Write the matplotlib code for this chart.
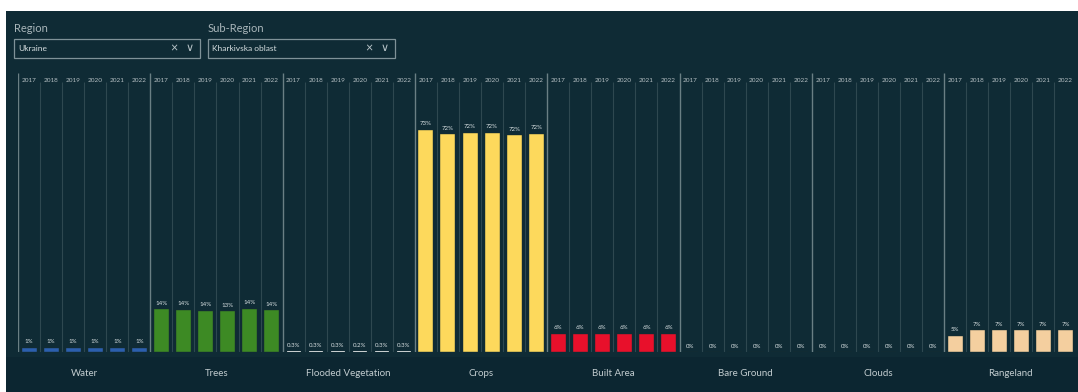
import numpy as np
import matplotlib.pyplot as plt
from matplotlib.patches import Rectangle

plt.rcParams['font.family'] = ['Lato', 'DejaVu Sans']

# land cover classes and years
categories = ['Water', 'Trees', 'Flooded Vegetation', 'Crops', 'Built Area',
              'Bare Ground', 'Clouds', 'Rangeland']
years = ['2017', '2018', '2019', '2020', '2021', '2022']

# share of area (%) per class and year
water = [1.4, 1.4, 1.4, 1.4, 1.4, 1.4]
trees = [14.1, 13.9, 13.6, 13.4, 14.3, 13.8]
flooded = [0.3, 0.3, 0.3, 0.2, 0.3, 0.3]
crops = [73.4, 71.8, 72.3, 72.4, 71.6, 72.1]
built = [6.0, 6.0, 6.0, 6.0, 6.0, 6.0]
bare = [0, 0, 0, 0, 0, 0]
clouds = [0, 0, 0, 0, 0, 0]
rangeland = [5.4, 7.1, 7.1, 7.1, 7.1, 7.2]

value_labels = [
    ['1%'] * 6,
    ['14%', '14%', '14%', '13%', '14%', '14%'],
    ['0.3%', '0.3%', '0.3%', '0.2%', '0.3%', '0.3%'],
    ['73%', '72%', '72%', '72%', '72%', '72%'],
    ['6%'] * 6,
    ['0%'] * 6,
    ['0%'] * 6,
    ['5%', '7%', '7%', '7%', '7%', '7%'],
]

series = [water, trees, flooded, crops, built, bare, clouds, rangeland]
colors = ['#2b5fae', '#3d8a24', '#d8dcdc', '#fdd95c', '#e8102b',
          '#d0d0d0', '#d0d0d0', '#f4cf9f']

BG = '#0f2b35'
W, H = 1078, 392

fig = plt.figure(figsize=(W / 100, H / 100), dpi=100)
fig.patch.set_facecolor('white')

# dark dashboard panel
bg = fig.add_axes([6 / W, 0, (W - 6) / W, (H - 11) / H])
bg.set_xlim(0, 1)
bg.set_ylim(0, 1)
bg.add_patch(Rectangle((0, 0), 1, 1, color=BG, lw=0))
bg.add_patch(Rectangle((0, 0), 1, 35 / 381, color='#0c2631', lw=0))
bg.axis('off')

# filter widgets
txt_col = '#a9b6ba'
box_col = '#7f9298'
for x0, x1, title, value in [(14, 200, 'Region', 'Ukraine'),
                             (208, 395, 'Sub-Region', 'Kharkivska oblast')]:
    fig.text(x0 / W, 1 - 29 / H, title, color=txt_col, fontsize=8, va='center')
    fig.patches.append(Rectangle((x0 / W, 1 - 58 / H), (x1 - x0) / W, 19 / H,
                                 transform=fig.transFigure, fill=False,
                                 edgecolor=box_col, lw=0.9))
    fig.text((x0 + 4) / W, 1 - 48.5 / H, value, color='#d6dee0', fontsize=6, va='center')
    fig.text((x1 - 26) / W, 1 - 48.5 / H, '\u00d7', color='#b8c4c8', fontsize=9,
             va='center', ha='center')
    fig.text((x1 - 10) / W, 1 - 48 / H, '\u2228', color='#b8c4c8', fontsize=8,
             va='center', ha='center', family='DejaVu Sans')

# main chart
px_per_pct = 3.03
ax = fig.add_axes([18 / W, 40 / H, 1058.4 / W, 303 / H])
ax.set_facecolor('none')
ax.set_xlim(0, 48)
ax.set_ylim(0, 100)
ax.axis('off')

line_top = (352 - 73) / px_per_pct
year_y = (352 - 80) / px_per_pct
n_years = len(years)

for g, (vals, labels, col, cat) in enumerate(zip(series, value_labels, colors, categories)):
    start = g * n_years
    xs = start + np.arange(n_years) + 0.5

    # group divider and slot separators
    ax.vlines(start, 0, line_top, color='#6a7f84', lw=1.0)
    ax.vlines(start + np.arange(1, n_years), 0, line_top - 3, color='#2e4850', lw=0.8)

    for x, yr in zip(xs, years):
        ax.text(x, year_y, yr, color='#b4bec2', fontsize=4.6, ha='center', va='center')

    if cat == 'Flooded Vegetation':
        ax.bar(xs, vals, width=0.6, color=col, edgecolor=col, linewidth=0.6)
    else:
        ax.bar(xs, vals, width=0.68, color=col, edgecolor='#1a2e30', linewidth=0.3)

    for x, v, lab in zip(xs, vals, labels):
        ax.annotate(lab, (x, v), xytext=(0, 2.5), textcoords='offset points',
                    ha='center', va='bottom', color='#d8e0e2', fontsize=4.4)

    ax.text(start + n_years / 2, -7, cat, color='#c3cdd0', fontsize=7,
            ha='center', va='center', clip_on=False)

fig.savefig('out.png', dpi=100, facecolor=fig.get_facecolor())
